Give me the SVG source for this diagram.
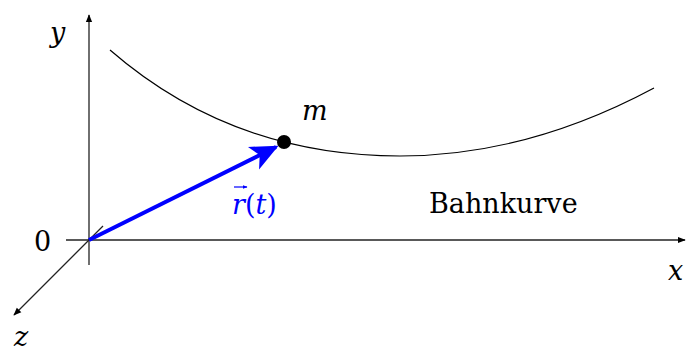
<svg xmlns="http://www.w3.org/2000/svg" width="686" height="354" viewBox="0 0 686 354">
<style>
.ax{stroke:#222;stroke-width:1.3;fill:none}
text{font-family:'DejaVu Serif','Liberation Serif',serif;font-size:27px;fill:#000}
.i{font-style:italic}
.b{fill:#00f}
</style>
<defs>
<marker id="ah" viewBox="0 0 10 10" refX="9" refY="5" markerWidth="8" markerHeight="8" markerUnits="userSpaceOnUse" orient="auto"><path d="M0,1 L10,5 L0,9 Z" fill="#000"/></marker>
<marker id="bh" viewBox="0 0 10 10" refX="9" refY="5" markerWidth="7" markerHeight="7" orient="auto"><path d="M0,0.5 L10,5 L0,9.5 L2.5,5 Z" fill="#00f"/></marker>
<marker id="vh" viewBox="0 0 10 10" refX="9" refY="5" markerWidth="5" markerHeight="5" markerUnits="userSpaceOnUse" orient="auto"><path d="M0,1 L10,5 L0,9 Z" fill="#00f"/></marker>
</defs>
<g id="connectors">
<line class="ax" x1="66" y1="240" x2="685" y2="240" marker-end="url(#ah)"/>
<line class="ax" x1="89" y1="265" x2="89" y2="15" marker-end="url(#ah)"/>
<line class="ax" x1="103" y1="226" x2="14" y2="315" marker-end="url(#ah)"/>
<path d="M110,50 Q232,156 400,156 Q527,156 654,88" fill="none" stroke="#000" stroke-width="1.2"/>
<line x1="89" y1="240" x2="276" y2="147" stroke="#00f" stroke-width="4" marker-end="url(#bh)"/>
</g>
<g id="mass">
<circle cx="284" cy="142" r="7" fill="#000"/>
<text class="i" x="302" y="120">m</text>
</g>
<g id="labels">
<text class="i" x="50" y="42">y</text>
<text x="34" y="251">0</text>
<text class="i" x="668" y="280">x</text>
<text class="i" x="14" y="346">z</text>
<text x="429" y="213">Bahnkurve</text>
<text class="b" x="232" y="214"><tspan class="i">r</tspan>(<tspan class="i">t</tspan>)</text>
<line x1="234" y1="187" x2="247" y2="187" stroke="#00f" stroke-width="1.2" marker-end="url(#vh)"/>
</g>
</svg>
